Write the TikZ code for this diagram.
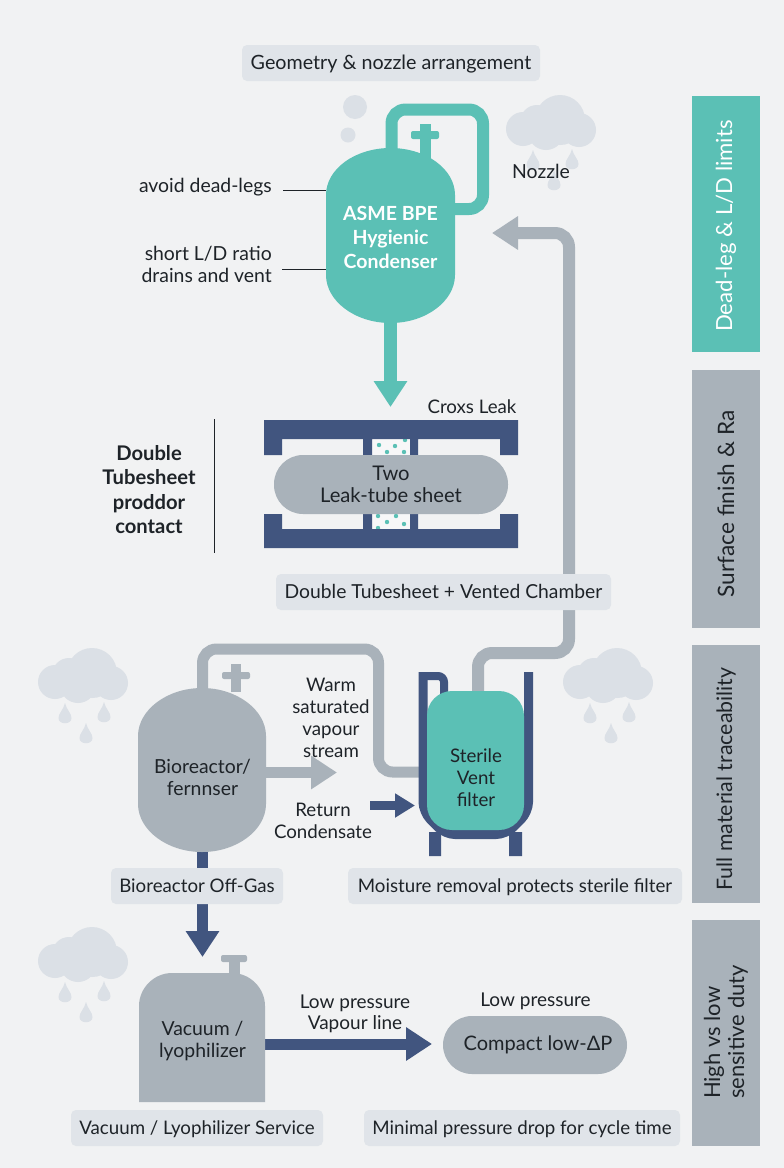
\documentclass[tikz,border=0pt]{standalone}
\usepackage{fontspec}
\setmainfont{Lato}
\usetikzlibrary{arrows.meta}
\definecolor{pagebg}{HTML}{F1F2F3}
\definecolor{tealfill}{HTML}{5BC0B5}
\definecolor{greyfill}{HTML}{A9B2BA}
\definecolor{navyfill}{HTML}{41557F}
\definecolor{tagfill}{HTML}{E0E4E9}
\definecolor{cloudfill}{HTML}{DBE0E6}
\definecolor{inkdark}{HTML}{1E2328}
\pgfdeclarelayer{pipes}
\pgfdeclarelayer{bodies}
\pgfsetlayers{pipes,bodies,main}
\newcommand{\txt}{\fontsize{18.7}{22}\selectfont}
\newcommand{\txtb}{\fontsize{19.4}{22}\selectfont}
\tikzset{
  tag/.style={fill=tagfill,rounded corners=5pt,inner sep=0pt,text=inkdark,font=\txt,anchor=center,
    text height=17pt,text depth=4pt},
  sidebar/.style={inner sep=0pt,minimum width=68pt,anchor=center},
  sidetext/.style={rotate=90,align=center,text=inkdark,inner sep=0pt,anchor=center},
  caption/.style={align=center,text=inkdark,font=\txtb,inner sep=0pt,anchor=center},
  vessel/.style={inner sep=0pt,align=center,text=inkdark,font=\txtb,anchor=center},
  pipe/.style={line width=#1,line cap=butt,rounded corners=14pt},
  flow/.style={line width=#1,line cap=butt,rounded corners=14pt,
    -{Triangle[length=26pt,width=32pt]}},
  leader/.style={draw=inkdark,line width=0.8pt},
  pics/cloud/.style={code={
    \fill[cloudfill] (9,-2) circle[radius=25pt] (-28,7) circle[radius=17pt]
      (-14,0) circle[radius=17pt] (28,8) circle[radius=17pt] (-5,10) circle[radius=18pt];
  }},
  pics/raindrop/.style={code={
    \fill[cloudfill] (0,-14) .. controls (1.5,-7) and (6.5,-4) .. (6.5,1)
      .. controls (6.5,8) and (-6.5,8) .. (-6.5,1)
      .. controls (-6.5,-4) and (-1.5,-7) .. cycle;
  }},
  pics/rain/.style={code={
    \pic at (-18,42) {raindrop};
    \pic at (21,41) {raindrop};
    \pic at (3,62) {raindrop};
  }}
}
\begin{document}
\begin{tikzpicture}[x=1pt,y=-1pt]
\useasboundingbox (0,0) rectangle (784,1168);

\begin{pgfonlayer}{pipes}
  \fill[pagebg] (0,0) rectangle (784,1168);
\end{pgfonlayer}

% Weather symbols
\pic at (551,122) {rain};
\pic at (551,122) {cloud};
\pic at (608,675) {rain};
\pic at (608,675) {cloud};
\pic at (83,675) {rain};
\pic at (83,675) {cloud};
\pic at (83,954) {rain};
\pic at (83,954) {cloud};
\fill[cloudfill] (355,107) circle[radius=12pt] (348,135) circle[radius=7.5pt];

% Header and caption tags
\node[tag,font=\fontsize{19.7}{22}\selectfont,minimum width=298pt,minimum height=36pt] (hdr) at (391,63) {Geometry \& nozzle arrangement};
\node[tag,font=\fontsize{19.3}{22}\selectfont,minimum width=335pt,minimum height=36pt] (tagdouble) at (443.5,592) {Double Tubesheet + Vented Chamber};
\node[tag,minimum width=172pt,minimum height=36pt] (offgas) at (197,886) {Bioreactor Off-Gas};
\node[tag,minimum width=334pt,minimum height=36pt] (tagmoist) at (515,886) {Moisture removal protects sterile filter};
\node[tag,minimum width=252pt,minimum height=36pt] (tagvac) at (197,1128) {Vacuum / Lyophilizer Service};
\node[tag,minimum width=316pt,minimum height=36pt] (tagmin) at (522,1128) {Minimal pressure drop for cycle time};

% Side bars
\node[sidebar,fill=tealfill,minimum height=256pt] (bar1) at (726,224) {};
\node[sidetext,text=white,font=\fontsize{22.2}{26}\selectfont] (bar1t) at (726,226) {Dead-leg \& L/D limits};
\node[sidebar,fill=greyfill,minimum height=258pt] (bar2) at (726,499) {};
\node[sidetext,font=\fontsize{22.6}{26}\selectfont] (bar2t) at (726,504) {Surface  finish \& Ra};
\node[sidebar,fill=greyfill,minimum height=258pt] (bar3) at (726,774) {};
\node[sidetext,font=\fontsize{21.3}{26}\selectfont] (bar3t) at (726,779) {Full material traceability};
\node[sidebar,fill=greyfill,minimum height=226pt] (bar4) at (726,1033) {};
\node[sidetext,align=left,font=\fontsize{22}{24}\selectfont] (bar4t) at (726,1032) {High vs low\\sensitive duty};

% Condenser
\node[vessel,text=white,font=\fontsize{19.5}{24}\selectfont\bfseries,minimum width=129pt,minimum height=175pt] (condenser) at (390.5,237) {ASME BPE\\Hygienic\\Condenser};
\coordinate (loopstart) at (391.5,160);
\coordinate (loopa) at (391.5,109.5);
\coordinate (loopb) at (483,109.5);
\coordinate (loopc) at (483,209);
\coordinate (loopend) at (450,209);
\coordinate (bodybase) at (390.5,320);
\coordinate (tubesheettip) at (390.5,407);
\begin{pgfonlayer}{pipes}
  \draw[pipe=12pt,tealfill] (loopstart) -- (loopa) -- (loopb) -- (loopc) -- (loopend);
  \fill[tealfill] (420,124) rectangle (431,165);
  \fill[tealfill,rounded corners=2pt] (411,131) rectangle (439,139);
  \draw[flow=13pt,tealfill] (bodybase) -- (tubesheettip);
\end{pgfonlayer}
\begin{pgfonlayer}{bodies}
  \fill[tealfill] (326,195) .. controls (326,169) and (355,148) .. (390.5,148)
    .. controls (426,148) and (455,169) .. (455,195) -- (455,275)
    .. controls (455,301) and (426,323) .. (390.5,323)
    .. controls (355,323) and (326,301) .. (326,275) -- cycle;
\end{pgfonlayer}

% Condenser annotations
\node[caption,anchor=east] (avoid) at (272,187) {avoid dead-legs};
\node[caption,anchor=east,align=right] (short) at (272,264.5) {short L/D ratio\\drains and vent};
\coordinate (avoidl) at (283,190);
\coordinate (shortl) at (282,269);
\draw[leader] (avoidl) -- (326,190);
\draw[leader] (shortl) -- (326,269);
\node[caption] (nozzle) at (541,171) {Nozzle};

% Double tubesheet
\fill[pagebg!60!white] (372,439) rectangle (410,455) (372,514) rectangle (410,529);
\fill[tealfill] (379,445) circle[radius=2.2pt] (395,446) circle[radius=2.2pt]
  (387,452) circle[radius=2.2pt] (404,452) circle[radius=2.2pt] (405,440) circle[radius=2.2pt]
  (378,516) circle[radius=2.2pt] (396,516) circle[radius=2.2pt] (387,522) circle[radius=2.2pt]
  (404,524) circle[radius=2.2pt] (378,528) circle[radius=2.2pt];
\fill[navyfill] (264,420) rectangle (518,439) (264,420) rectangle (282,455)
  (500,420) rectangle (518,455) (363,439) rectangle (372,455) (410,439) rectangle (418,455);
\fill[navyfill] (264,529) rectangle (518,548) (264,514) rectangle (282,548)
  (500,514) rectangle (518,548) (363,514) rectangle (372,529) (410,514) rectangle (418,529);
\node[vessel,fill=greyfill,rounded corners=29pt,minimum width=234pt,minimum height=59pt,font=\fontsize{20.2}{22}\selectfont] (sheet) at (391,484.5) {Two\\Leak-tube sheet};
\node[caption,font=\txt] (cross) at (472,407) {Croxs Leak};
\node[caption,font=\fontsize{20.2}{24.4}\selectfont\bfseries] (dbl) at (149,489.5) {Double\\Tubesheet\\proddor\\contact};
\coordinate (ruletop) at (214,419);
\coordinate (rulebot) at (214,553);
\draw[leader] (ruletop) -- (rulebot);

% Bioreactor
\node[vessel,minimum width=128pt,minimum height=164pt] (bio) at (202.5,777) {Bioreactor/\\fernnser};
\coordinate (fa) at (202.5,692);
\coordinate (fb) at (202.5,649);
\coordinate (fc) at (378.5,649);
\coordinate (fd) at (378.5,772);
\coordinate (warmtip) at (337,772.5);
\coordinate (biostart) at (262,772.5);
\coordinate (biobase) at (202.5,850);
\coordinate (offtip) at (202.5,957);
\begin{pgfonlayer}{pipes}
  \fill[greyfill] (231,664) rectangle (241,692);
  \fill[greyfill,rounded corners=2pt] (222,672) rectangle (250,679);
  \draw[flow=11pt,greyfill] (biostart) -- (warmtip);
  \draw[line width=11pt,navyfill] (offgas.south -| fa) -- (biobase);
  \draw[flow=11pt,navyfill] (offgas.south -| offtip) -- (offtip);
\end{pgfonlayer}
\begin{pgfonlayer}{bodies}
  \fill[greyfill] (138,736) .. controls (138,710) and (167,688) .. (202,688)
    .. controls (237,688) and (266,710) .. (266,736) -- (266,804)
    .. controls (266,830) and (237,852) .. (202,852)
    .. controls (167,852) and (138,830) .. (138,804) -- cycle;
\end{pgfonlayer}
\node[caption,font=\txt] (warm) at (331,717.5) {Warm\\saturated\\vapour\\stream};
\node[caption,font=\txt] (ret) at (323,821) {Return\\Condensate};

% Sterile vent filter with its jacket
\node[vessel,fill=tealfill,rounded corners=25pt,minimum width=97pt,minimum height=139pt] (filter) at (475.5,760.5) {};
\node[caption,font=\txt] (filtertext) at (476,778) {Sterile\\Vent\\filter};
\coordinate (fe) at (420,772);
\coordinate (ga) at (478,695);
\coordinate (gb) at (478,653);
\coordinate (gc) at (569,653);
\coordinate (gd) at (569,233);
\coordinate (condensetip) at (492,233);
\coordinate (retstart) at (370,805.5);
\coordinate (rettip) at (415,805.5);
\begin{pgfonlayer}{pipes}
  \draw[pipe=11pt,greyfill] (fa) -- (fb) -- (fc) -- (fd) -- (fe);
  \draw[flow=12pt,greyfill] (ga) -- (gb) -- (gc) -- (gd) -- (condensetip);
\end{pgfonlayer}
\begin{pgfonlayer}{bodies}
  \draw[navyfill,line width=9pt,rounded corners=10pt,line cap=butt]
    (423,672) -- (423,812) -- (445,834.5) -- (506,834.5) -- (528.5,812) -- (528.5,672);
  \draw[navyfill,line width=8pt,rounded corners=6pt,line cap=butt]
    (419,676) -- (444,676) -- (444,695);
  \fill[navyfill] (429,832) rectangle (441,856) (509,832) rectangle (522,856);
\end{pgfonlayer}
\draw[navyfill,line width=9pt,-{Triangle[length=20pt,width=23pt]}] (retstart) -- (rettip);

% Vacuum vessel and compact condenser
\node[vessel,fill=greyfill,rounded corners=29pt,minimum width=184pt,minimum height=58pt] (compact) at (535,1045) {};
\node[caption,font=\fontsize{20}{22}\selectfont] (compacttext) at (538,1045) {Compact low-ΔP};
\node[vessel,minimum width=126pt,minimum height=129pt] (vac) at (202.5,1041) {Vacuum /\\lyophilizer};
\coordinate (vacstart) at (262,1044);
\coordinate (vactip) at (432,1044);
\begin{pgfonlayer}{pipes}
  \draw[flow=11pt,navyfill] (vacstart) -- (vactip);
  \fill[greyfill] (229,958) rectangle (240,976);
  \fill[greyfill,rounded corners=2pt] (221,955) rectangle (247,962);
\end{pgfonlayer}
\begin{pgfonlayer}{bodies}
  \fill[greyfill] (139,1102) -- (139,1006) .. controls (139,988) and (154,973) .. (172,973)
    -- (232,973) .. controls (250,973) and (265,988) .. (265,1006) -- (265,1102) -- cycle;
\end{pgfonlayer}
\node[caption,font=\fontsize{19}{20.5}\selectfont] (lowa) at (355,1014) {Low pressure\\Vapour line};
\node[caption,font=\fontsize{19}{22}\selectfont] (lowb) at (535.5,1001) {Low pressure};
\end{tikzpicture}
\end{document}
